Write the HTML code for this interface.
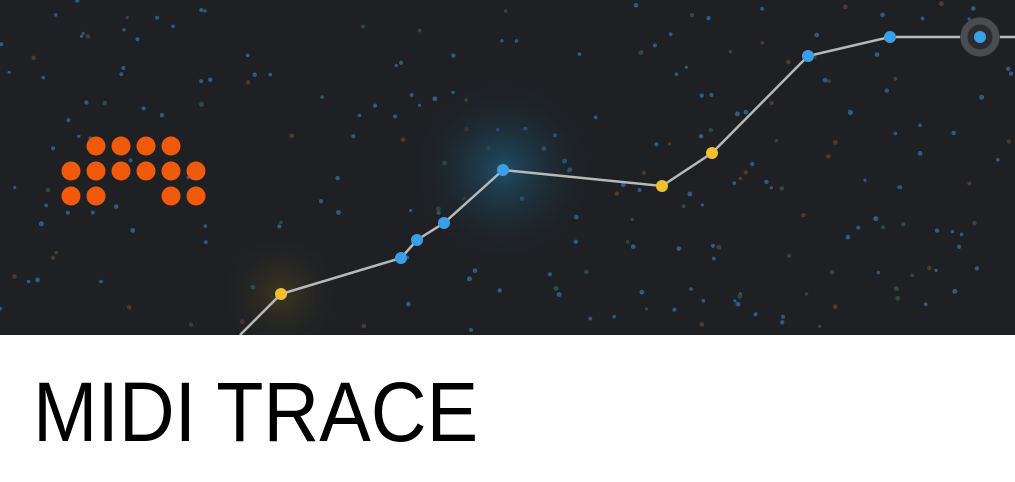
<!DOCTYPE html>
<html><head><meta charset="utf-8"><style>
html,body{margin:0;padding:0;width:1015px;height:482px;overflow:hidden;background:#fff}
#banner{position:absolute;left:0;top:0;width:1015px;height:335px;background:#1e2024}
#title{position:absolute;left:33px;top:364px;font-family:"Liberation Sans",sans-serif;font-size:84px;line-height:96px;color:#000;transform:scaleX(0.92);transform-origin:left top;white-space:nowrap}
</style></head><body>
<div id="banner">
<svg id="svg" width="1015" height="335">
<defs>
<radialGradient id="gb"><stop offset="0" stop-color="#1f5a78" stop-opacity="0.8"/><stop offset="1" stop-color="#1e2024" stop-opacity="0"/></radialGradient>
<radialGradient id="gy"><stop offset="0" stop-color="#4a4020" stop-opacity="0.7"/><stop offset="1" stop-color="#1e2024" stop-opacity="0"/></radialGradient>
</defs>
<g id="stars"></g>
<circle cx="503" cy="170" r="95" fill="url(#gb)"/>
<circle cx="281" cy="294" r="65" fill="url(#gy)"/>
<g id="logo"></g>
<polyline id="trace" fill="none" stroke="#b8b8b8" stroke-width="2.5"/>
<circle cx="980" cy="37" r="20" fill="#2a2c30"/>
<circle cx="980" cy="37" r="16" fill="none" stroke="#4a4c50" stroke-width="7"/>
<g id="nodes"></g>
</svg>
</div>
<div id="title">MIDI TRACE</div>
<script>
const nodeX=[281,401,417,444,503,662,712,808,890,980];
const nodeY=[294,258,240,223,170,186,153,56,37,37];
const nodeKind=['y','b','b','b','b','y','y','b','b','b'];
const logoRows=[[96,121,146,171],[71,96,121,146,171,196],[71,96,171,196]];
const logoY=[146,171,196];
const ns='http://www.w3.org/2000/svg';
let s=7;function rnd(){s=(s*16807)%2147483647;return s/2147483647;}
const stars=document.getElementById('stars');
const cols=['#2d5b82','#2d5b82','#2d5b82','#2d5b82','#4a3a30','#2f4a3a'];
for(let i=0;i<230;i++){const c=document.createElementNS(ns,'circle');
c.setAttribute('cx',(rnd()*1015).toFixed(1));c.setAttribute('cy',(rnd()*335).toFixed(1));
c.setAttribute('r',(1.6+rnd()*0.9).toFixed(1));c.setAttribute('fill',cols[Math.floor(rnd()*cols.length)]);


stars.appendChild(c);}
const logo=document.getElementById('logo');
logoRows.forEach((row,ri)=>row.forEach(x=>{const c=document.createElementNS(ns,'circle');
c.setAttribute('cx',x);c.setAttribute('cy',logoY[ri]);c.setAttribute('r',9.5);c.setAttribute('fill','#f05a0a');


logo.appendChild(c);}));
let pts=['240,335'];nodeX.forEach((x,i)=>pts.push(x+','+nodeY[i]));pts.push('1015,37');
document.getElementById('trace').setAttribute('points',pts.join(' '));
const g=document.getElementById('nodes');
nodeX.forEach((x,i)=>{const c=document.createElementNS(ns,'circle');
c.setAttribute('cx',x);c.setAttribute('cy',nodeY[i]);c.setAttribute('r',6);
c.setAttribute('fill',nodeKind[i]==='y'?'#f0c030':'#3a9ee8');


g.appendChild(c);});
</script>
</body></html>
